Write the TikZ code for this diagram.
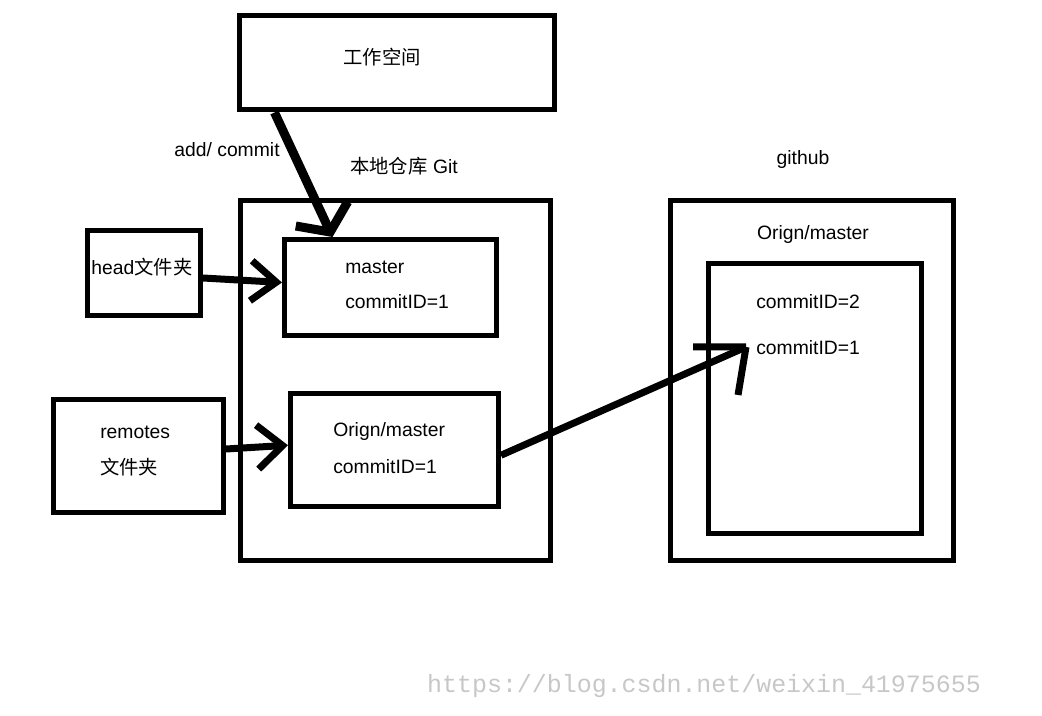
\documentclass[tikz,border=0pt]{standalone}
\usepackage{fontspec}
\setmainfont{Liberation Sans}
\newfontfamily\cjk{Noto Sans CJK SC}
\newfontfamily\wmfont{Liberation Mono}
\usetikzlibrary{arrows.meta,positioning,calc,fit}

\begin{document}
\begin{tikzpicture}[
    x=0.75pt, y=-0.75pt,
    every node/.style={font=\fontsize{14.5}{17}\selectfont},
    box/.style={draw, line width=3.75pt, inner sep=0pt},
    txt/.style={inner sep=0pt, anchor=west},
    arr/.style={line width=5.25pt, -{Straight Barb[length=19pt, width=30pt]}},
  ]
  \useasboundingbox (0,0) rectangle (1042,716);

  % boxes
  \node[box, fit={(239,16) (554,110)}] (ws) {};
  \node[box, fit={(240,201) (550,560)}] (local) {};
  \node[box, fit={(87.5,230.5) (200.5,315.5)}] (head) {};
  \node[box, fit={(284.5,239.5) (496.5,335.5)}] (master) {};
  \node[box, fit={(53.5,399.5) (223.5,512.5)}] (remotes) {};
  \node[box, fit={(290.5,394) (498.5,506.5)}] (originL) {};
  \node[box, fit={(670.5,200.5) (953,560.5)}] (github) {};
  \node[box, fit={(708.5,263.5) (921.5,533)}] (ginner) {};

  % texts
  \node[inner sep=0pt] (wstext) at (382,57) {\cjk 工作空间};
  \node[inner sep=0pt] (addc) at (227,150) {add/ commit};
  \node[inner sep=0pt] (localtext) at (404,166) {{\cjk 本地仓库} Git};
  \node[inner sep=0pt] (headtext) at (142,267) {head{\cjk 文件夹}};
  \node[txt] (mname) at (345,267) {master};
  \node[txt] (mc1) at (345,302) {commitID=1};
  \node[txt] (rname) at (100,432) {remotes};
  \node[txt] (rdir) at (100,467) {\cjk 文件夹};
  \node[txt] (oname) at (333,432) {Orign/master};
  \node[txt] (oc1) at (333,467) {commitID=1};
  \node[inner sep=0pt] (ghtext) at (803,160) {github};
  \node[inner sep=0pt] (gname) at (813,235) {Orign/master};
  \node[txt] (gc2) at (756,302) {commitID=2};
  \node[txt] (gc1) at (756,348) {commitID=1};
  \node[inner sep=0pt, font=\wmfont\fontsize{18.7}{20}\selectfont, text=black!22]
    (wm) at (704,686) {https://blog.csdn.net/weixin\_41975655};

  % arrows
  \draw[arr, line width=6.75pt, -{Straight Barb[length=15pt, width=43pt]}]
    ($(ws.south west)+(38,0)$) -- ($(master.north west)+(50.5,0)$);
  \draw[arr] ($(head.east)+(0,5)$) -- ($(master.west)+(0,-5)$);
  \draw[arr, -{Straight Barb[length=19pt, width=33pt]}]
    ($(remotes.east)+(0,-7)$) -- ($(originL.west)+(0,-5)$);
  \coordinate (gtip) at ($(gc1.west)+(-10,-1)$);
  \draw[line width=5.25pt] ($(originL.east)+(0,5)$) -- (gtip);
  \draw[line width=5.25pt] (gtip) -- ++(-53,0) (gtip) -- ++(-8,48);
\end{tikzpicture}
\end{document}
